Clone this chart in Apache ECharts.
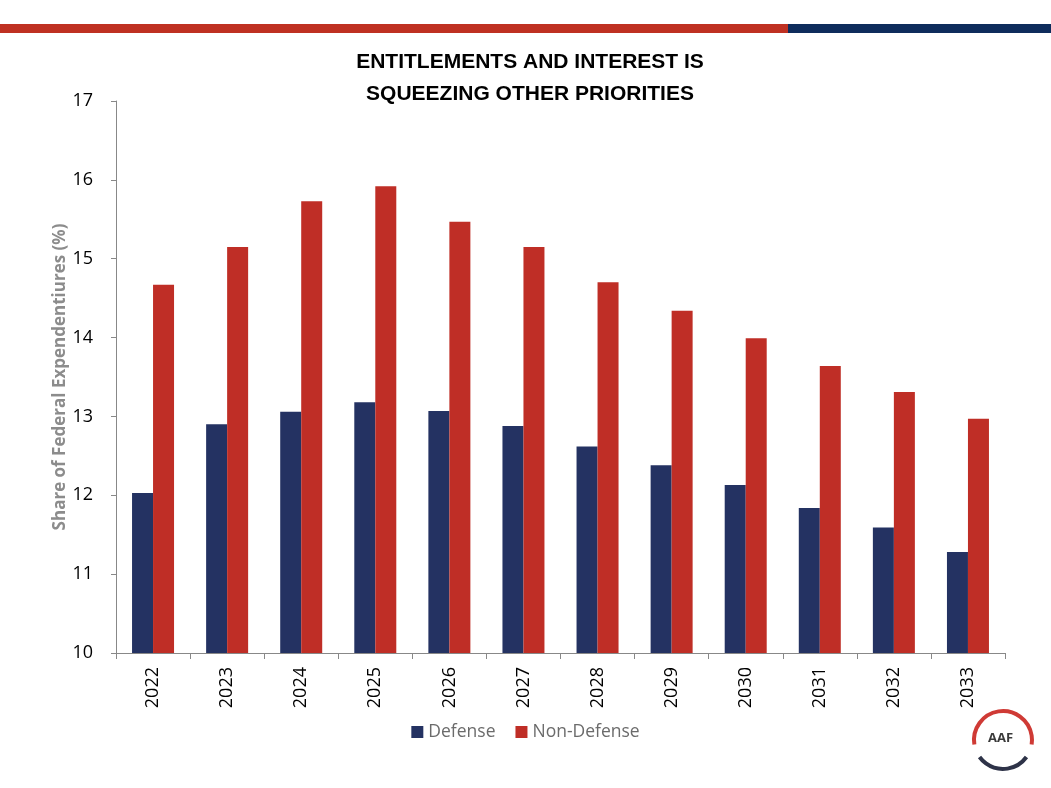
<!DOCTYPE html>
<html lang="en">
<head>
    <meta charset="UTF-8">
    <title>Entitlements and Interest</title>
    <script src="https://cdn.jsdelivr.net/npm/echarts@6/dist/echarts.min.js"></script>
</head>
<body style="margin:0;background:#fff;">
<div id="myChart" style="width: 1051px;height: 788px;"></div>
<script>
    var years = ['2022','2023','2024','2025','2026','2027','2028','2029','2030','2031','2032','2033'];
    var defense = [12.03, 12.90, 13.06, 13.18, 13.07, 12.88, 12.62, 12.38, 12.13, 11.84, 11.59, 11.28];
    var nonDefense = [14.67, 15.15, 15.73, 15.92, 15.47, 15.15, 14.70, 14.34, 13.99, 13.64, 13.31, 12.97];

    var myChart = echarts.init(document.getElementById('myChart'));
    var font = '"Open Sans", "Noto Sans", sans-serif';
    option = {
        backgroundColor: '#fff',
        animation: false,
        title: {
            text: 'ENTITLEMENTS AND INTEREST IS\nSQUEEZING OTHER PRIORITIES',
            left: 525,
            top: 41,
            textAlign: 'center',
            textStyle: {
                fontFamily: '"Liberation Sans Narrow", "Liberation Sans", sans-serif',
                fontWeight: 'bold',
                fontSize: 21,
                lineHeight: 32,
                color: '#000'
            }
        },
        legend: {
            data: ['Defense', 'Non-Defense'],
            left: 'center',
            top: 718,
            itemWidth: 12,
            itemHeight: 12,
            itemGap: 20,
            icon: 'rect',
            textStyle: { fontFamily: font, fontSize: 17.5, color: '#6b6b6b' }
        },
        grid: {
            left: 116,
            right: 46,
            top: 101,
            bottom: 135
        },
        xAxis: {
            type: 'category',
            data: years,
            axisLine: { lineStyle: { color: '#888' } },
            axisTick: { show: true, alignWithLabel: false, length: 6, lineStyle: { color: '#888' } },
            axisLabel: { rotate: 90, fontFamily: font, fontSize: 18, color: '#000', margin: 14 }
        },
        yAxis: {
            type: 'value',
            min: 10,
            max: 17,
            interval: 1,
            name: 'Share of Federal Expendentiures (%)',
            nameLocation: 'middle',
            nameGap: 56,
            nameMoveOverlap: false,
            nameTextStyle: { fontFamily: font, fontSize: 17, fontWeight: 'bold', color: '#8c8c8c', verticalAlign: 'middle' },
            splitLine: { show: false },
            axisLine: { show: true, lineStyle: { color: '#888' } },
            axisTick: { show: true, length: 5, lineStyle: { color: '#888' } },
            axisLabel: { fontFamily: font, fontSize: 18, color: '#000', margin: 23 }
        },
        series: [
            {
                name: 'Defense',
                type: 'bar',
                data: defense,
                barWidth: 21,
                barGap: '0%',
                itemStyle: { color: '#243262' }
            },
            {
                name: 'Non-Defense',
                type: 'bar',
                data: nonDefense,
                barWidth: 21,
                itemStyle: { color: '#bf2e26' }
            }
        ],
        graphic: [
            { type: 'rect', shape: { x: 0, y: 24, width: 788, height: 9 }, style: { fill: '#bf3122' } },
            { type: 'rect', shape: { x: 788, y: 24, width: 263, height: 9 }, style: { fill: '#0e2c5c' } },
            { type: 'arc', shape: { cx: 1003, cy: 740, r: 29, startAngle: Math.PI * 0.95, endAngle: Math.PI * 2.05 },
              style: { stroke: '#cf3a35', lineWidth: 4, fill: null } },
            { type: 'arc', shape: { cx: 1003, cy: 740, r: 29, startAngle: Math.PI * 0.2, endAngle: Math.PI * 0.8 },
              style: { stroke: '#2e3348', lineWidth: 4, fill: null } },
            { type: 'text', left: 988, top: 732, style: { text: 'AAF', font: 'bold 13px "Open Sans", sans-serif', fill: '#3a3a3a' } }
        ]
    };
    myChart.setOption(option);
</script>
</body>
</html>
